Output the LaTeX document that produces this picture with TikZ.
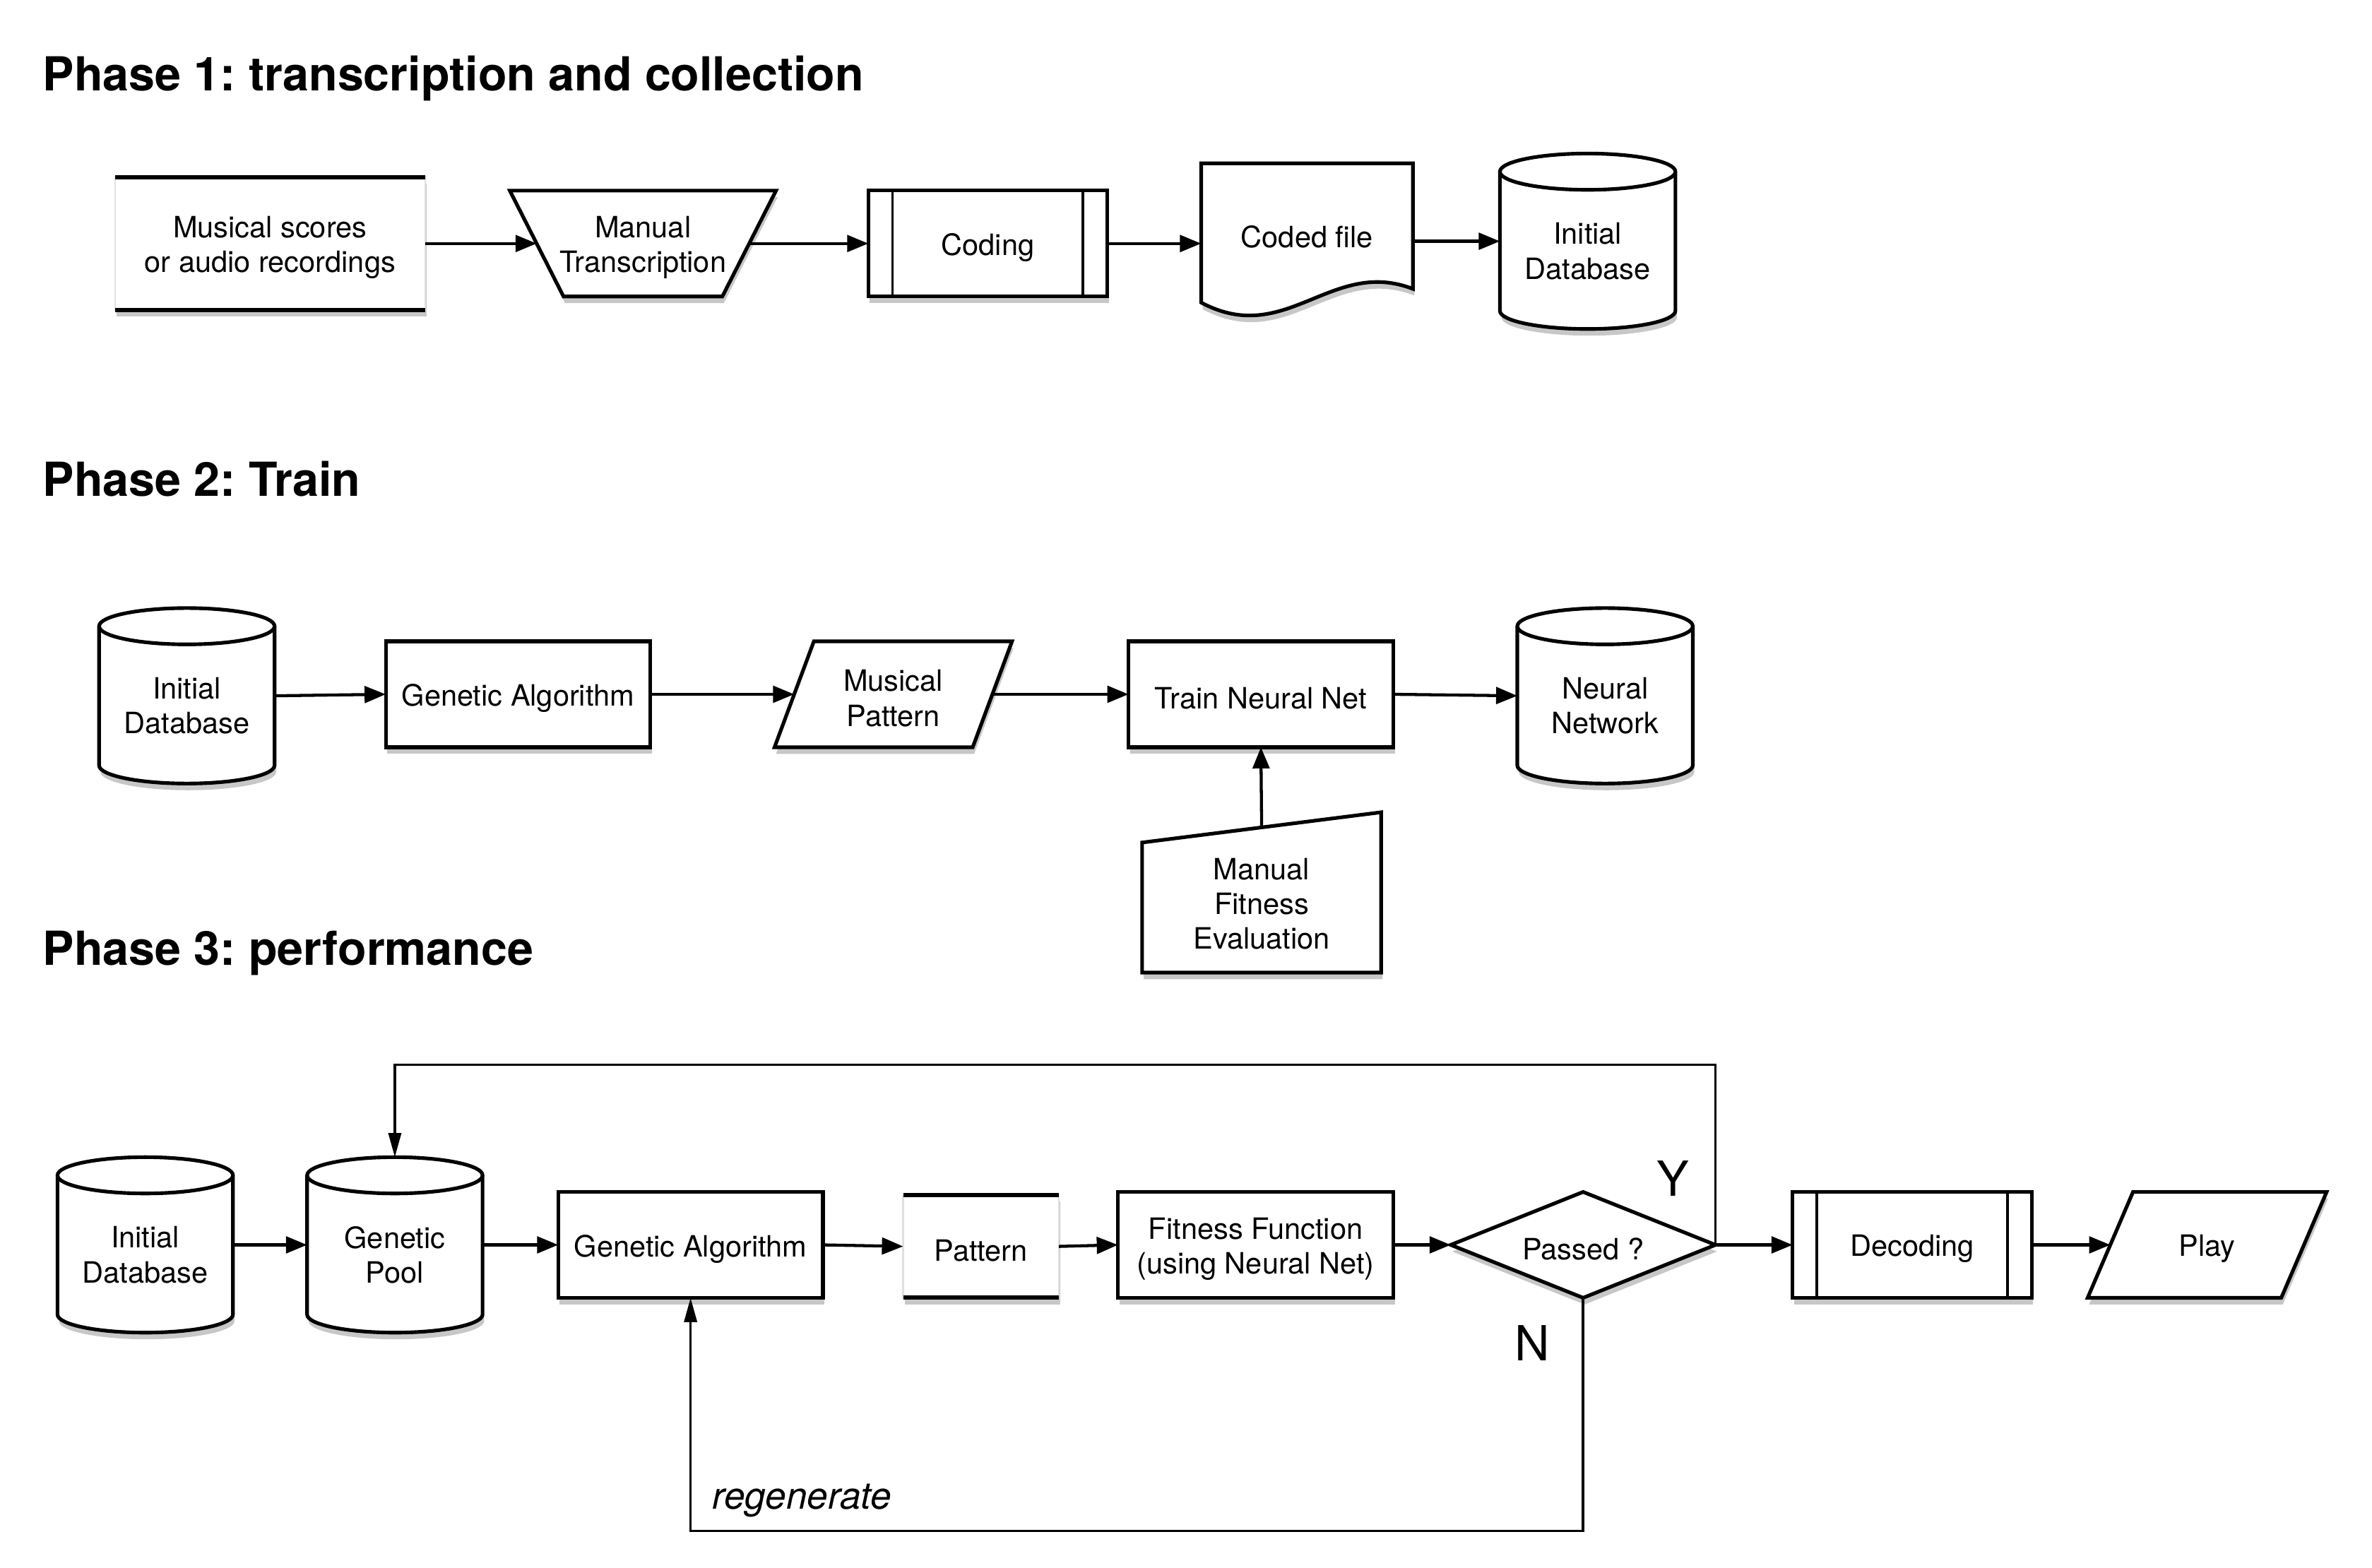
\documentclass[tikz,border=0pt]{standalone}
\usepackage{fontspec}
\setmainfont{TeX Gyre Heros}
\usetikzlibrary{arrows.meta,shadows}
\pgfdeclarelayer{bg}
\pgfsetlayers{bg,main}
\frenchspacing
\newcommand{\bodyf}{\fontsize{9.7}{11.5}\selectfont}
\newcommand{\titlef}{\fontsize{15.5}{18}\selectfont\bfseries}
\newcommand{\ynf}{\fontsize{16}{18}\selectfont}
\newcommand{\regf}{\fontsize{12.4}{14}\selectfont\itshape}
\tikzset{
  sz/.style 2 args={minimum width=#1*0.5pt, minimum height=#2*0.5pt},
  frame/.style={inner sep=0pt, outer sep=0pt, align=center, font=\bodyf},
  shadowed/.style={drop shadow={shadow xshift=0.5pt, shadow yshift=-2.2pt, opacity=0.22, fill=black}},
  box/.style={frame, draw, line width=1.2pt, fill=white, shadowed},
  tbbox/.style={frame, draw=black!12, line width=0.5pt, fill=white, shadowed},
  shp/.style={draw, line width=1.2pt, fill=white, shadowed},
  innerline/.style={line width=0.9pt},
  edgeline/.style={line width=1.4pt},
  arr/.style={line width=1pt, -{Triangle[length=7pt,width=5.5pt]}},
  looparr/.style={line width=0.8pt, -{Triangle[length=8pt,width=4.2pt]}},
  title/.style={anchor=base west, inner sep=0pt, font=\titlef},
  nodetext/.style={font=\bodyf, align=center, inner sep=0pt, yshift=-1.3pt},
  cyltext/.style={font=\bodyf, align=center, inner sep=0pt, yshift=-3.3pt},
  txt/.style={label={[nodetext]center:#1}},
  ctxt/.style={label={[cyltext]center:#1}},
  lbl/.style={inner sep=0pt},
}
\newcommand{\mkpp}[1]{%
  \draw[innerline] ([xshift=8pt]#1.north west) -- ([xshift=8pt]#1.south west);
  \draw[innerline] ([xshift=-8pt]#1.north east) -- ([xshift=-8pt]#1.south east);}
\newcommand{\mktb}[1]{%
  \draw[edgeline] (#1.north west) -- (#1.north east);
  \draw[edgeline] (#1.south west) -- (#1.south east);}
\newcommand{\mkcyl}[1]{%
  \begin{pgfonlayer}{bg}
  \path[shp] ([yshift=-6pt]#1.north west) -- ([yshift=6pt]#1.south west)
     arc[start angle=180,end angle=360,x radius=29pt,y radius=6pt]
     -- ([yshift=-6pt]#1.north east)
     arc[start angle=0,end angle=180,x radius=29pt,y radius=6pt] -- cycle;
  \draw[line width=1.2pt] ([yshift=-6pt]#1.north west)
     arc[start angle=180,end angle=360,x radius=29pt,y radius=6pt];
  \end{pgfonlayer}}
\begin{document}
\begin{tikzpicture}[x=0.5pt,y=-0.5pt]
\useasboundingbox (0,0) rectangle (1568,1036.6);

% ---------------- Phase 1 ----------------
\node[title] (t1) at (28,60) {Phase 1: transcription and collection};
\node[tbbox, sz={205}{88}, txt={Musical scores\\or audio recordings}] (ms) at (178.5,161) {};
\mktb{ms}
\node[frame, sz={176}{70}, txt={Manual\\Transcription}] (mt) at (425,161) {};
\begin{pgfonlayer}{bg}
\path[shp] (mt.north west) -- (mt.north east) -- ([xshift=-17.75pt]mt.south east)
  -- ([xshift=17.75pt]mt.south west) -- cycle;
\end{pgfonlayer}
\node[box, sz={158}{70}, txt={Coding}] (cod) at (653,161) {};
\mkpp{cod}
\node[frame, sz={140}{92}, txt={Coded file}] (cf) at (864,154) {};
\begin{pgfonlayer}{bg}
\path[shp] (cf.north west) -- (cf.north east) -- ([yshift=4.5pt]cf.south east)
  .. controls (880,170) and (850,230) .. (cf.south west) -- cycle;
\end{pgfonlayer}
\node[frame, sz={116}{116}, ctxt={Initial\\Database}] (db1) at (1049.5,159.5) {};
\mkcyl{db1}

\draw[arr] (ms.east) -- ([xshift=8.875pt]mt.west);
\draw[arr] ([xshift=-8.875pt]mt.east) -- (cod.west);
\draw[arr] (cod.east) -- (cod.east -| cf.west);
\draw[arr] (cf.east |- db1.west) -- (db1.west);

% ---------------- Phase 2 ----------------
\node[title] (t2) at (28,328) {Phase 2: Train};
\node[frame, sz={116}{116}, ctxt={Initial\\Database}] (db2) at (123.5,460) {};
\mkcyl{db2}
\node[box, sz={175}{70}, txt={Genetic Algorithm}] (ga2) at (342.5,459) {};
\node[frame, sz={157}{70}, txt={Musical\\Pattern}] (mp) at (590.5,459) {};
\begin{pgfonlayer}{bg}
\path[shp] (mp.south west) -- ([xshift=13pt]mp.north west) -- (mp.north east)
  -- ([xshift=-13pt]mp.south east) -- cycle;
\end{pgfonlayer}
\node[box, sz={175}{70}, txt={Train Neural Net}] (tn) at (833.5,459) {};
\node[frame, sz={116}{116}, ctxt={Neural\\Network}] (nn) at (1061,460) {};
\mkcyl{nn}
\node[frame, sz={158}{96}, txt={Manual\\Fitness\\Evaluation}] (mf) at (834,595) {};
\begin{pgfonlayer}{bg}
\path[shp] ([yshift=-5pt]mf.north west) -- ([yshift=5pt]mf.north east)
  -- (mf.south east) -- (mf.south west) -- cycle;
\end{pgfonlayer}

\draw[arr] (db2.east) -- (ga2.west);
\draw[arr] (ga2.east) -- ([xshift=6.5pt]mp.west);
\draw[arr] ([xshift=-6.5pt]mp.east) -- (tn.west);
\draw[arr] (tn.east) -- (nn.west);
\draw[arr] (mf.north) -- (tn.south);

% ---------------- Phase 3 ----------------
\node[title] (t3) at (28,638) {Phase 3: performance};
\node[frame, sz={116}{116}, ctxt={Initial\\Database}] (db3) at (96,823) {};
\mkcyl{db3}
\node[frame, sz={116}{116}, ctxt={Genetic\\Pool}] (gp) at (261,823) {};
\mkcyl{gp}
\node[box, sz={175}{70}, txt={Genetic Algorithm}] (ga3) at (456.5,823) {};
\node[tbbox, sz={103}{68}, txt={Pattern}] (pat) at (648.5,824) {};
\mktb{pat}
\node[box, sz={182}{70}, txt={Fitness Function\\(using Neural Net)}] (ff) at (830,823) {};
\node[frame, sz={175}{70}, txt={Passed ?}] (pass) at (1046.5,823) {};
\begin{pgfonlayer}{bg}
\path[shp] (pass.west) -- (pass.north) -- (pass.east) -- (pass.south) -- cycle;
\end{pgfonlayer}
\node[box, sz={158}{70}, txt={Decoding}] (dec) at (1264,823) {};
\mkpp{dec}
\node[frame, sz={158}{70}, txt={Play}] (play) at (1459,823) {};
\begin{pgfonlayer}{bg}
\path[shp] (play.south west) -- ([xshift=15pt]play.north west) -- (play.north east)
  -- ([xshift=-15pt]play.south east) -- cycle;
\end{pgfonlayer}

\draw[arr] (db3.east) -- (gp.west);
\draw[arr] (gp.east) -- (ga3.west);
\draw[arr] (ga3.east) -- (pat.west);
\draw[arr] (pat.east) -- (ff.west);
\draw[arr] (ff.east) -- (pass.west);
\draw[arr] (pass.east) -- (dec.west);
\draw[arr] (dec.east) -- ([xshift=7.5pt]play.west);

\coordinate (ytop) at (1134,704);
\coordinate (nbot) at (1046,1012);
\draw[looparr] (pass.east) -- (pass.east |- ytop) -- (gp.north |- ytop) -- (gp.north);
\draw[looparr] (pass.south) -- (pass.south |- nbot) -- (ga3.south |- nbot) -- (ga3.south);

\node[lbl, font=\ynf] (ylab) at (1106,779) {Y};
\node[lbl, font=\ynf] (nlab) at (1013,888) {N};
\node[lbl, font=\regf] (regen) at (530,992) {regenerate};
\end{tikzpicture}
\end{document}
